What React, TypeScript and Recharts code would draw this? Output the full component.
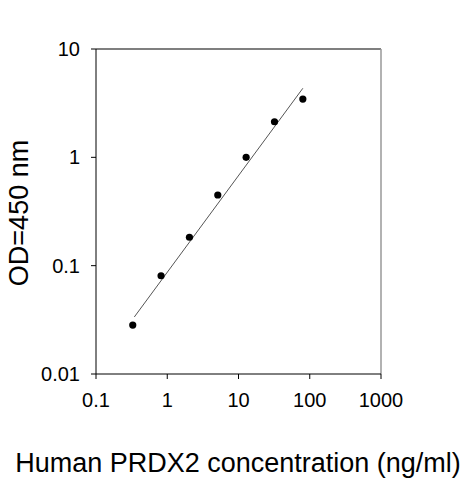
import { ComposedChart, Scatter, XAxis, YAxis, ReferenceLine, Label } from "recharts";

// standard curve: concentration (ng/ml) vs OD450
const concentracion = [0.328, 0.819, 2.048, 5.12, 12.8, 32, 80];
const densidad = [0.0283, 0.0807, 0.183, 0.449, 1.0, 2.13, 3.45];

// ends of the fitted line
const ajusteX = [0.345, 80];
const ajusteY = [0.0336, 4.34];

const ticksX = [0.1, 1, 10, 100, 1000];
const ticksY = [0.01, 0.1, 1, 10];

const puntos = concentracion.map((x, i) => ({ x, y: densidad[i] }));
const ajuste = ajusteX.map((x, i) => ({ x, y: ajusteY[i] }));

const fuente = "Liberation Sans, Arial, sans-serif";
const formato = (v: number) => String(v);

export default function App() {
  return (
    <div style={{ position: "absolute", left: 0, top: 0, background: "#fff" }}>
      <ComposedChart width={463} height={480} margin={{ top: 49, right: 82, bottom: 66, left: 40 }}>
        <XAxis
          dataKey="x"
          type="number"
          scale="log"
          domain={[0.1, 1000]}
          ticks={ticksX}
          allowDataOverflow
          tickFormatter={formato}
          height={40}
          tick={{ fontSize: 20, fill: "#000", fontFamily: fuente }}
          tickSize={5}
          tickMargin={14}
          axisLine={{ stroke: "#000" }}
          tickLine={{ stroke: "#000" }}
        >
          <Label
            content={() => (
              <text x={238} y={472} textAnchor="middle" fontSize={27} fontFamily={fuente} fill="#000">
                Human PRDX2 concentration (ng/ml)
              </text>
            )}
          />
        </XAxis>
        <YAxis
          dataKey="y"
          type="number"
          scale="log"
          domain={[0.01, 10]}
          ticks={ticksY}
          allowDataOverflow
          tickFormatter={formato}
          width={56}
          tick={{ fontSize: 20, fill: "#000", fontFamily: fuente }}
          tickSize={5}
          tickMargin={11}
          axisLine={{ stroke: "#000" }}
          tickLine={{ stroke: "#000" }}
        >
          <Label
            content={() => (
              <text
                x={18}
                y={213}
                dy="0.36em"
                textAnchor="middle"
                fontSize={27}
                fontFamily={fuente}
                fill="#000"
                transform="rotate(-90, 18, 213)"
              >
                OD=450 nm
              </text>
            )}
          />
        </YAxis>
        <ReferenceLine y={10} stroke="#000" strokeWidth={1.2} />
        <ReferenceLine x={1000} stroke="#999" strokeWidth={1.5} />
        <Scatter
          data={ajuste}
          line={{ stroke: "#555", strokeWidth: 1 }}
          shape={() => <g />}
          isAnimationActive={false}
        />
        <Scatter
          data={puntos}
          shape={(p: any) => <circle cx={p.cx} cy={p.cy} r={3.6} fill="#000" />}
          isAnimationActive={false}
        />
      </ComposedChart>
    </div>
  );
}
